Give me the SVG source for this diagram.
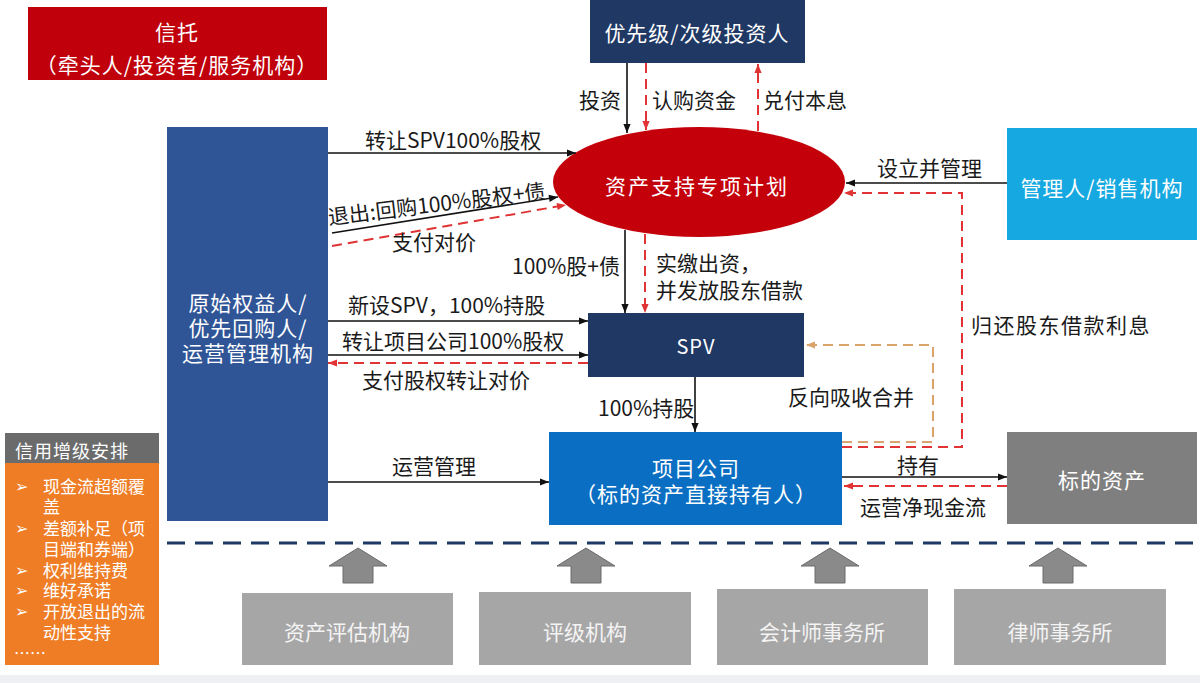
<svg xmlns="http://www.w3.org/2000/svg" width="1200" height="683" viewBox="0 0 1200 683">
<defs>
<marker id="ab" viewBox="0 0 10 10" refX="10" refY="5" markerWidth="10" markerHeight="9" markerUnits="userSpaceOnUse" orient="auto"><path d="M0,1 L10,5 L0,9 z" fill="#111"/></marker>
<marker id="ar" viewBox="0 0 10 10" refX="10" refY="5" markerWidth="10" markerHeight="9" markerUnits="userSpaceOnUse" orient="auto"><path d="M0,1 L10,5 L0,9 z" fill="#e03434"/></marker>
<marker id="ao" viewBox="0 0 10 10" refX="10" refY="5" markerWidth="10" markerHeight="9" markerUnits="userSpaceOnUse" orient="auto"><path d="M0,1 L10,5 L0,9 z" fill="#dba36c"/></marker>
</defs>
<style>
text{font-family:"Noto Sans CJK SC","Noto Sans",sans-serif}
.lbl{font-size:21px;fill:#1a1a1a}
.nt{font-size:21px;fill:#fff;text-anchor:middle;letter-spacing:1px}
.gt{font-size:21px;fill:#f4f4f4;text-anchor:middle}
.ce{font-size:17px;fill:#fff}
.bu{font-family:"DejaVu Sans",sans-serif;font-size:16px;fill:#fff}
.blk{stroke:#111;stroke-width:1.6;fill:none;marker-end:url(#ab)}
.red{stroke:#e03434;stroke-width:2;stroke-dasharray:10 6;fill:none;marker-end:url(#ar)}
.org{stroke:#dba36c;stroke-width:2;stroke-dasharray:10 6;fill:none;marker-end:url(#ao)}
.upa{fill:#8a8a8a;stroke:#6a6a6a;stroke-width:1}
.bx{fill:#a7a6a6}
</style>
<rect x="0" y="0" width="1200" height="683" fill="#ffffff"/>
<rect x="0" y="675" width="1200" height="8" fill="#eef0f3"/>

<g id="trust">
<rect x="28" y="7" width="299" height="73" fill="#c0000a"/>
<text class="nt" x="177" y="40">信托<tspan x="177" dy="33">（牵头人/投资者/服务机构）</tspan></text>
</g>

<g id="investors">
<rect x="590" y="0" width="215" height="63" fill="#1f3864"/>
<text class="nt" x="697" y="41">优先级/次级投资人</text>
</g>

<g id="plan">
<ellipse cx="699" cy="182" rx="146" ry="55" fill="#c4000a"/>
<text class="nt" x="697" y="194" style="letter-spacing:2px">资产支持专项计划</text>
</g>

<g id="originator">
<rect x="167" y="127" width="161" height="394" fill="#2f5597"/>
<text class="nt" x="248" y="311">原始权益人/<tspan x="248" dy="25">优先回购人/</tspan><tspan x="248" dy="25">运营管理机构</tspan></text>
</g>

<g id="manager">
<rect x="1007" y="128" width="190" height="112" fill="#16a8e0"/>
<text class="nt" x="1102" y="196">管理人/销售机构</text>
</g>

<g id="spv">
<rect x="588" y="313" width="216" height="64" fill="#1f3864"/>
<text class="nt" x="696" y="354" style="font-size:20px">SPV</text>
</g>

<g id="projco">
<rect x="549" y="432" width="293" height="93" fill="#0a6fc2"/>
<text class="nt" x="696" y="476">项目公司<tspan x="696" dy="26">（标的资产直接持有人）</tspan></text>
</g>

<g id="asset">
<rect x="1007" y="432" width="190" height="92" fill="#7f7f7f"/>
<text class="nt" x="1102" y="488">标的资产</text>
</g>

<g id="credit">
<rect x="5" y="433" width="154" height="30" fill="#6b6b6b"/>
<rect x="5" y="463" width="154" height="202" fill="#ee7d26"/>
<text class="ce" x="15" y="458" style="font-size:18px;letter-spacing:1px">信用增级安排</text>
<text class="bu" x="15" y="492">➢</text>
<text class="bu" x="15" y="534">➢</text>
<text class="bu" x="15" y="576">➢</text>
<text class="bu" x="15" y="596">➢</text>
<text class="bu" x="15" y="617">➢</text>
<text class="ce" x="43" y="493">现金流超额覆<tspan x="43" dy="20">盖</tspan><tspan x="43" dy="22">差额补足（项</tspan><tspan x="43" dy="21">目端和券端）</tspan><tspan x="43" dy="21">权利维持费</tspan><tspan x="43" dy="20">维好承诺</tspan><tspan x="43" dy="21">开放退出的流</tspan><tspan x="43" dy="21">动性支持</tspan></text>
<text class="ce" x="14" y="659" style="font-size:16px">……</text>
</g>

<g id="separator">
<line x1="167" y1="543" x2="1200" y2="543" stroke="#1f3864" stroke-width="3" stroke-dasharray="18 10"/>
</g>

<g id="valuer">
<polygon class="upa" points="358,548 387,566 373,566 373,583 343,583 343,566 329,566"/>
<rect class="bx" x="242" y="593" width="211" height="72"/>
<text class="gt" x="347" y="640">资产评估机构</text>
</g>
<g id="rating">
<polygon class="upa" points="586,548 615,566 601,566 601,583 571,583 571,566 557,566"/>
<rect class="bx" x="479" y="592" width="212" height="73"/>
<text class="gt" x="585" y="640">评级机构</text>
</g>
<g id="accountant">
<polygon class="upa" points="830,548 859,566 845,566 845,583 815,583 815,566 801,566"/>
<rect class="bx" x="717" y="589" width="211" height="76"/>
<text class="gt" x="822" y="640">会计师事务所</text>
</g>
<g id="lawyer">
<polygon class="upa" points="1058,548 1087,566 1073,566 1073,583 1043,583 1043,566 1029,566"/>
<rect class="bx" x="954" y="589" width="212" height="76"/>
<text class="gt" x="1060" y="640">律师事务所</text>
</g>

<g id="connectors">
<line class="blk" x1="627" y1="63" x2="627" y2="133"/>
<text class="lbl" x="621" y="108" text-anchor="end">投资</text>
<line class="red" x1="646" y1="63" x2="646" y2="130"/>
<text class="lbl" x="652" y="108">认购资金</text>
<line class="red" x1="758" y1="131" x2="758" y2="64"/>
<text class="lbl" x="763" y="108">兑付本息</text>

<line class="blk" x1="328" y1="153" x2="576" y2="153"/>
<text class="lbl" x="365" y="148">转让SPV100%股权</text>
<line class="blk" x1="332" y1="233" x2="558" y2="197"/>
<text class="lbl" x="329" y="225" transform="rotate(-7 329 225)">退出:回购100%股权+债</text>
<line class="red" x1="332" y1="246" x2="566" y2="205"/>
<text class="lbl" x="392" y="250">支付对价</text>

<line class="blk" x1="1007" y1="183" x2="846" y2="183"/>
<text class="lbl" x="877" y="176">设立并管理</text>
<polyline class="red" points="842,447 962,447 962,193 844,193"/>
<text class="lbl" x="971" y="333" style="letter-spacing:1.5px">归还股东借款利息</text>

<line class="blk" x1="625" y1="230" x2="625" y2="313"/>
<text class="lbl" x="620" y="274" text-anchor="end">100%股+债</text>
<line class="red" x1="645" y1="234" x2="645" y2="313"/>
<text class="lbl" x="656" y="271">实缴出资，<tspan x="656" dy="27">并发放股东借款</tspan></text>

<line class="blk" x1="328" y1="321" x2="588" y2="321"/>
<text class="lbl" x="348" y="313">新设SPV，100%持股</text>
<line class="blk" x1="328" y1="355" x2="588" y2="355"/>
<text class="lbl" x="342" y="349">转让项目公司100%股权</text>
<line class="red" x1="588" y1="363" x2="328" y2="363"/>
<text class="lbl" x="362" y="388">支付股权转让对价</text>

<line class="blk" x1="695" y1="377" x2="695" y2="432"/>
<text class="lbl" x="598" y="416">100%持股</text>
<polyline class="org" points="842,442 933,442 933,345 806,345"/>
<text class="lbl" x="788" y="405">反向吸收合并</text>

<line class="blk" x1="328" y1="482" x2="549" y2="482"/>
<text class="lbl" x="392" y="474">运营管理</text>
<line class="blk" x1="842" y1="477" x2="1007" y2="477"/>
<text class="lbl" x="918" y="473" text-anchor="middle">持有</text>
<line class="red" x1="1007" y1="486" x2="844" y2="486"/>
<text class="lbl" x="860" y="515">运营净现金流</text>
</g>
</svg>
